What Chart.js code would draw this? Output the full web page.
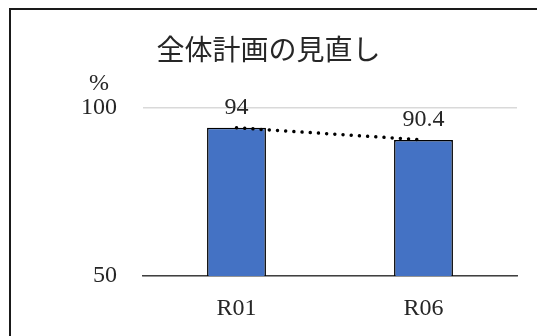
<!DOCTYPE html>
<html>
<head>
<meta charset="utf-8">
<script src="https://cdn.jsdelivr.net/npm/chart.js@4/dist/chart.umd.min.js"></script>
<style>
    html, body { margin: 0; padding: 0; background: #fff; overflow: hidden; }
    #wrap { position: relative; width: 537px; height: 336px; }
    #frame {
        position: absolute; left: 9px; top: 8px; width: 540px; height: 340px;
        border-top: 2px solid #1a1a1a; border-left: 2px solid #1a1a1a;
        pointer-events: none;
    }
</style>
</head>
<body>
<div id="wrap">
    <canvas id="reviewChart" width="537" height="336"></canvas>
    <div id="frame"></div>
</div>
<script>
var labels = ['R01', 'R06'];
var rates = [94, 90.4];
var yTicks = [50, 100];

var serif = "'Liberation Serif', 'Noto Sans CJK JP', serif";

// value labels above each bar + the "%" unit above the y axis
var extras = {
    id: 'extras',
    afterDatasetsDraw: function(chart) {
        var ctx = chart.ctx;
        var meta = chart.getDatasetMeta(1);
        ctx.save();
        ctx.fillStyle = '#262626';
        ctx.font = '24px ' + serif;
        ctx.textAlign = 'center';
        ctx.textBaseline = 'middle';
        meta.data.forEach(function(bar, i) {
            ctx.fillText(String(rates[i]), bar.x, bar.y - 20);
        });
        var y = chart.scales.y;
        var w = ctx.measureText('100').width;
        var px = y.right - y.options.ticks.padding - w / 2;
        ctx.fillText('%', px, y.getPixelForValue(100) - 24);
        ctx.restore();
    }
};

var ctx = document.getElementById('reviewChart').getContext('2d');
var data = {
    labels: labels,
    datasets: [{
        type: 'line',
        data: rates,
        borderColor: '#000',
        borderWidth: 3.5,
        borderDash: [0.01, 8.2],
        borderCapStyle: 'round',
        pointRadius: 0,
        fill: false,
        order: 0
    }, {
        type: 'bar',
        data: rates,
        backgroundColor: '#4472C4',
        borderColor: '#000',
        borderWidth: 1.5,
        barPercentage: 0.9,
        categoryPercentage: 0.35,
        order: 1
    }]
};

var options = {
    responsive: false,
    animation: false,
    layout: { padding: { top: 8, left: 20, right: 20, bottom: 0 } },
    plugins: {
        legend: { display: false },
        tooltip: { enabled: false },
        title: {
            display: true,
            text: '全体計画の見直し',
            color: '#262626',
            font: { family: serif, size: 28, weight: 'normal' },
            padding: { top: 28, bottom: 38 }
        }
    },
    scales: {
        x: {
            afterFit: function(axis) { axis.height = 60; },
            grid: { display: false, drawTicks: false },
            border: { display: true, color: '#404040', width: 1.5 },
            ticks: { color: '#262626', font: { family: serif, size: 24 }, padding: 18 }
        },
        y: {
            min: 50,
            max: 100,
            afterBuildTicks: function(axis) {
                axis.ticks = yTicks.map(function(v) { return { value: v }; });
            },
            afterFit: function(axis) { axis.width = 123; },
            grid: { color: '#d9d9d9', lineWidth: 1.5, drawTicks: false },
            border: { display: false },
            ticks: { color: '#262626', font: { family: serif, size: 24 }, padding: 26 }
        }
    }
};

new Chart(ctx, { data: data, options: options, plugins: [extras] });
</script>
</body>
</html>
